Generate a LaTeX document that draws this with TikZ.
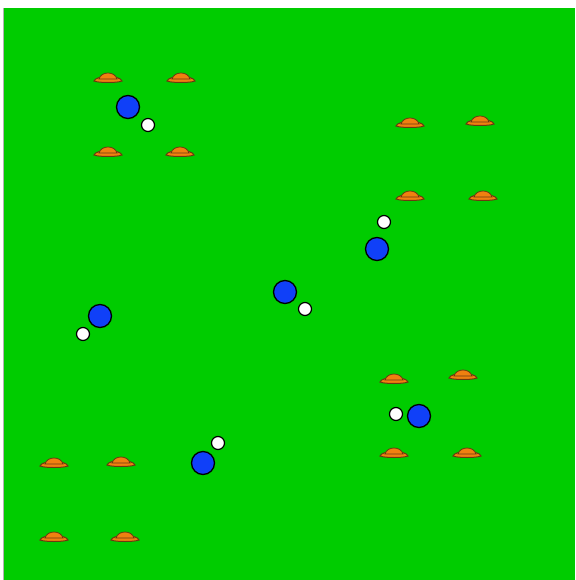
\documentclass[tikz,border=0pt]{standalone}
\usepackage{tikz}
\usetikzlibrary{positioning}
\definecolor{Field_Green}{HTML}{00CC00}
\definecolor{Player_Blue}{HTML}{1040F8}
\definecolor{Cone_Orange}{HTML}{F08010}
\definecolor{Cone_Edge}{HTML}{6A3A10}

\tikzset{
    player/.style={circle, fill=Player_Blue, draw=black, line width=1.3pt, minimum size=23pt, inner sep=0pt},
    ball/.style={circle, fill=white, draw=black, line width=1.2pt, minimum size=13pt, inner sep=0pt},
    cone/.pic={
        \fill[Cone_Orange, draw=Cone_Edge, line width=1pt] (-14,3) .. controls (-12,-3) and (12,-3) .. (14,3) .. controls (10,5) and (-10,5) .. (-14,3) -- cycle;
        \fill[Cone_Orange, draw=Cone_Edge, line width=0.8pt] (-9,1) .. controls (-7,-7) and (7,-7) .. (9,1) -- cycle;
    }
}

\begin{document}
\begin{tikzpicture}[x=1pt, y=-1pt]
    \useasboundingbox (0,0) rectangle (575,580);
    % field
    \fill[Field_Green] (3,8) rectangle (575,580);
    \draw[gray!60, line width=0.6pt] (3.3,8) -- (3.3,580);

    % Cones, top left
    \pic at (108,78) {cone}; \pic at (181,78) {cone};
    \pic at (108,152) {cone}; \pic at (180,152) {cone};
    % Cones, top right
    \pic at (410,123) {cone}; \pic at (480,121) {cone};
    \pic at (410,196) {cone}; \pic at (483,196) {cone};
    % Cones, bottom right
    \pic at (394,379) {cone}; \pic at (463,375) {cone};
    \pic at (394,453) {cone}; \pic at (467,453) {cone};
    % Cones, bottom left
    \pic at (54,463) {cone}; \pic at (121,462) {cone};
    \pic at (54,537) {cone}; \pic at (125,537) {cone};

    % Players and balls
    \node[player] (p1) at (128,107) {}; \node[ball] (b1) at (148,125) {};
    \node[ball] (b2) at (384,222) {}; \node[player] (p2) at (377,249) {};
    \node[player] (p3) at (285,292) {}; \node[ball] (b3) at (305,309) {};
    \node[player] (p4) at (100,316) {}; \node[ball] (b4) at (83,334) {};
    \node[ball] (b5) at (396,414) {}; \node[player] (p5) at (419,416) {};
    \node[ball] (b6) at (218,443) {}; \node[player] (p6) at (203,463) {};
\end{tikzpicture}
\end{document}
